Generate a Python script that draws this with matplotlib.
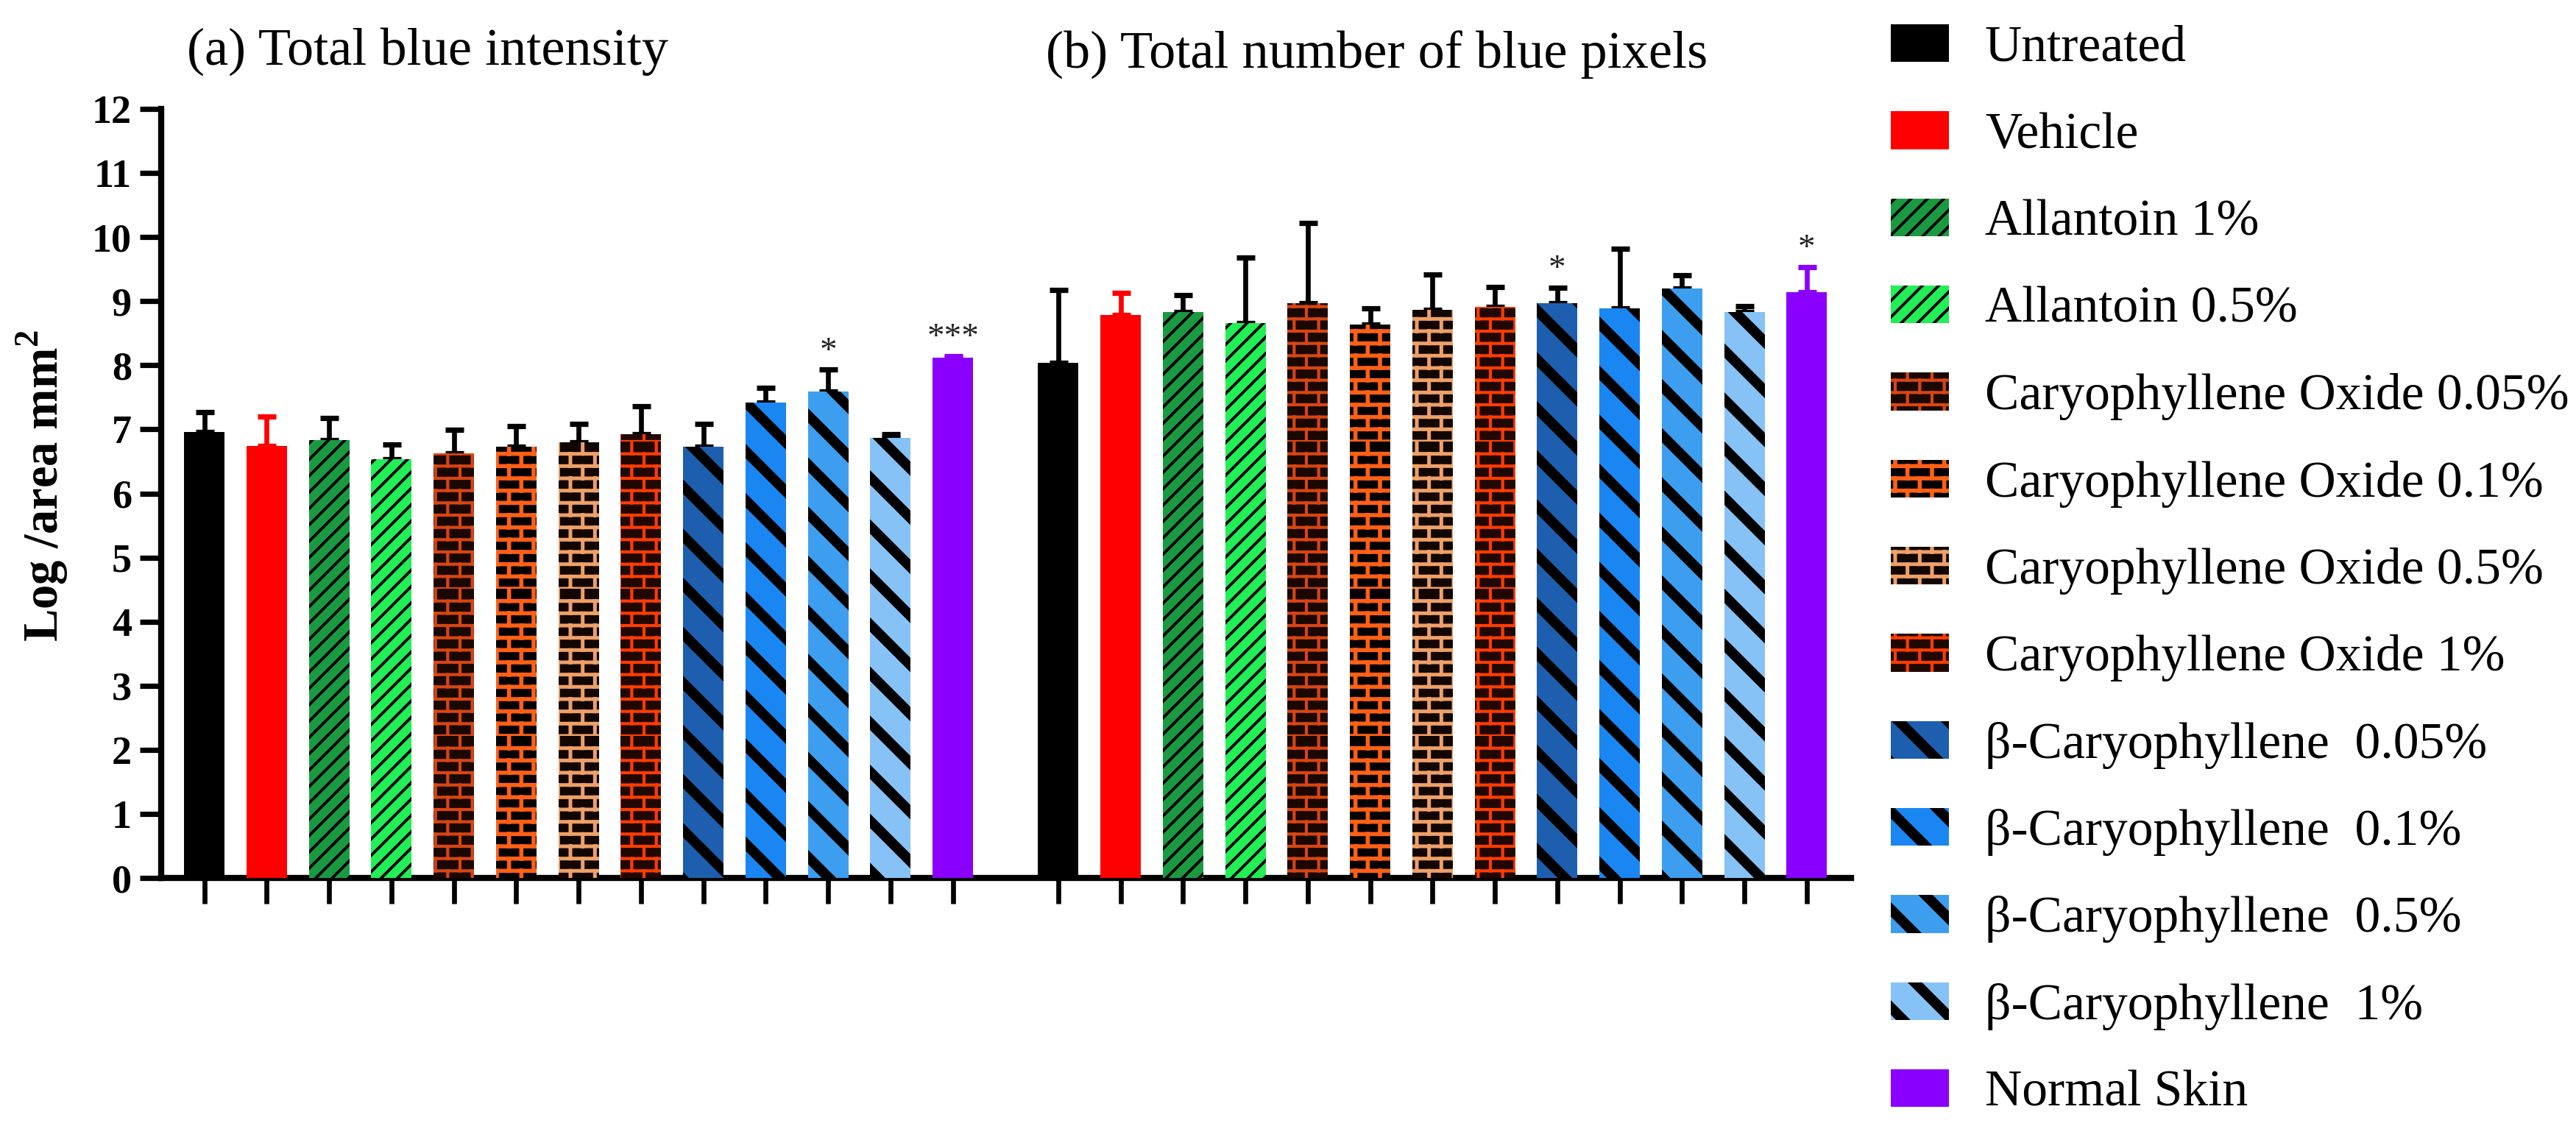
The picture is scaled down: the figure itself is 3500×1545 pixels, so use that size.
import numpy as np
import matplotlib
matplotlib.use("Agg")
import matplotlib.pyplot as plt
import matplotlib.hatch as mhatch
from matplotlib.path import Path

# data
groups = ["Untreated", "Vehicle", "Allantoin 1%", "Allantoin 0.5%",
          "Caryophyllene Oxide 0.05%", "Caryophyllene Oxide 0.1%",
          "Caryophyllene Oxide 0.5%", "Caryophyllene Oxide 1%",
          "β-Caryophyllene  0.05%", "β-Caryophyllene  0.1%",
          "β-Caryophyllene  0.5%", "β-Caryophyllene  1%", "Normal Skin"]

intensity = [6.96, 6.74, 6.83, 6.54, 6.63, 6.73, 6.80, 6.93, 6.73, 7.42, 7.59, 6.87, 8.12]
intensity_err = [0.31, 0.46, 0.35, 0.22, 0.36, 0.32, 0.28, 0.43, 0.35, 0.23, 0.34, 0.06, 0.02]

pixels = [8.04, 8.78, 8.83, 8.66, 8.97, 8.63, 8.86, 8.91, 8.97, 8.89, 9.20, 8.83, 9.14]
pixels_err = [1.13, 0.35, 0.26, 1.02, 1.25, 0.26, 0.56, 0.31, 0.24, 0.93, 0.20, 0.09, 0.39]

sig_intensity = [(10, "*"), (12, "***")]
sig_pixels = [(8, "*"), (12, "*")]

# styles
face_colors = ["#000000", "#ff0000", "#1a9a40", "#22ee55",
               "#1a0800", "#050000", "#120600", "#200800",
               "#1d5fae", "#1a86f2", "#3d9ef0", "#86c2f6", "#8a00ff"]
hatch_colors = ["#000000", "#ff0000", "#000000", "#000000",
                "#d84512", "#ff6015", "#eea068", "#ff3c00",
                "#000000", "#000000", "#000000", "#000000", "#8a00ff"]
hatches = [None, None, "///", "///", "oo", "oo", "oo", "oo",
           "\\", "\\", "\\", "\\", None]
hatch_lw = [1, 1, 1.4, 1.4, 1.5, 2.0, 1.8, 1.5, 5, 5, 5, 5, 1]
err_colors = ["#000000", "#ff0000"] + ["#000000"] * 10 + ["#8a00ff"]


# brick pattern, registered in place of the small-circle hatch ('o')
class BrickHatch(mhatch.HatchPatternBase):
    def __init__(self, hatch, density):
        self.rows = hatch.count("o") * density
        self.cols = self.rows // 2
        self.num_vertices = 2 * self.rows * (1 + self.cols)

    def set_vertices_and_codes(self, vertices, codes):
        h = 1.0 / self.rows
        w = 1.0 / self.cols
        k = 0
        for r in range(self.rows):
            y = r * h
            vertices[k] = (0, y)
            vertices[k + 1] = (1, y)
            codes[k], codes[k + 1] = Path.MOVETO, Path.LINETO
            k += 2
            off = w / 4 if r % 2 == 0 else w * 3 / 4
            for c in range(self.cols):
                x = c * w + off
                vertices[k] = (x, y)
                vertices[k + 1] = (x, y + h)
                codes[k], codes[k + 1] = Path.MOVETO, Path.LINETO
                k += 2


mhatch._hatch_types = [BrickHatch if t is mhatch.SmallCircles else t
                       for t in mhatch._hatch_types]

plt.rcParams["font.family"] = ["Liberation Serif", "DejaVu Serif"]
plt.rcParams["mathtext.fontset"] = "custom"
plt.rcParams["mathtext.rm"] = "Liberation Serif"
plt.rcParams["mathtext.bf"] = "Liberation Serif:bold"

fig = plt.figure(figsize=(17.5, 7.725), dpi=200)
ax = fig.add_axes([0.0626, 0.2278, 0.656, 0.6764])

n = len(groups)
xa = np.arange(n)
xb = np.arange(n) + 13.69
width = 0.65


def draw_group(xs, vals, errs, sig):
    handles = []
    for i in range(n):
        with plt.rc_context({"hatch.linewidth": hatch_lw[i]}):
            b = ax.bar(xs[i], vals[i], width=width, color=face_colors[i],
                       hatch=hatches[i], edgecolor=hatch_colors[i],
                       linewidth=0, zorder=3)
        if hasattr(b[0], "set_hatch_linewidth"):
            b[0].set_hatch_linewidth(hatch_lw[i])
        ax.errorbar(xs[i], vals[i], yerr=[[0], [errs[i]]], fmt="none",
                    ecolor=err_colors[i], elinewidth=2.4, capsize=4.5,
                    capthick=2.6, zorder=2)
        handles.append(b[0])
    for i, s in sig:
        ax.annotate(s, (xs[i], vals[i] + errs[i]), xytext=(0, 1),
                    textcoords="offset points", ha="center", va="bottom",
                    fontsize=17, color="#222222")
    return handles


handles = draw_group(xa, intensity, intensity_err, sig_intensity)
draw_group(xb, pixels, pixels_err, sig_pixels)

ax.set_xlim(-0.69, 26.4)
ax.set_ylim(0, 12)
ax.set_yticks(range(13))
ax.set_xticks(np.concatenate([xa, xb]))
ax.set_xticklabels([])
for s in ["top", "right"]:
    ax.spines[s].set_visible(False)
for s in ["left", "bottom"]:
    ax.spines[s].set_linewidth(3)
ax.tick_params(axis="y", length=10.4, width=2.6, labelsize=19.5, pad=4)
ax.tick_params(axis="x", length=12.5, width=2.4)
for lab in ax.get_yticklabels():
    lab.set_fontweight("bold")
ax.set_ylabel("Log /area mm$^{\\mathbf{2}}$", fontsize=24, fontweight="bold")
ax.yaxis.set_label_coords(-0.054, 0.51)

fig.text(0.0726, 0.943, "(a) Total blue intensity", fontsize=26,
         va="baseline", ha="left")
fig.text(0.406, 0.940, "(b) Total number of blue pixels", fontsize=26,
         va="baseline", ha="left")

leg = fig.legend(handles, groups, loc="upper left",
                 bbox_to_anchor=(0.734, 0.9786), frameon=False, fontsize=25,
                 handlelength=1.14, handleheight=0.76, handletextpad=0.7,
                 labelspacing=0.77, borderpad=0, borderaxespad=0)
for p, lw in zip(leg.get_patches(), hatch_lw):
    if hasattr(p, "set_hatch_linewidth"):
        p.set_hatch_linewidth(lw)

fig.savefig("out.png", dpi=200)
